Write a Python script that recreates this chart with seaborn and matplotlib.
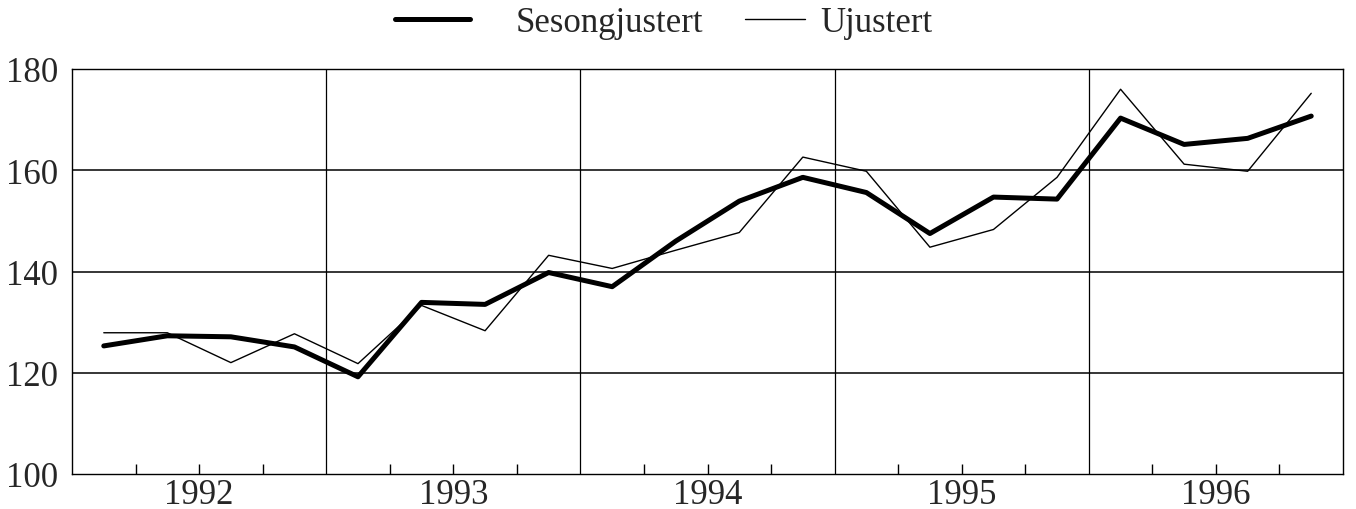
import numpy as np
import pandas as pd
import matplotlib
matplotlib.use("Agg")
import matplotlib.pyplot as plt
import seaborn as sns

# ---- data ----
years = [1992, 1993, 1994, 1995, 1996]
quarters = [1, 2, 3, 4]
sesongjustert = [125.3, 127.3, 127.1, 125.1, 119.2, 133.9, 133.5, 139.8, 137.0, 146.0,
                 153.9, 158.6, 155.6, 147.5, 154.7, 154.3, 170.3, 165.1, 166.3, 170.7]
ujustert = [127.9, 127.9, 122.0, 127.7, 121.8, 133.3, 128.3, 143.2, 140.6, 144.2,
            147.7, 162.6, 159.8, 144.8, 148.3, 158.6, 176.0, 161.2, 159.8, 175.2]
y_ticks = [100, 120, 140, 160, 180]
series_names = ["Sesongjustert", "Ujustert"]

# ---- frame ----
rows = []
idx = 0
for y in years:
    for q in quarters:
        rows.append({"t": idx, "year": y, "quarter": q,
                     series_names[0]: sesongjustert[idx],
                     series_names[1]: ujustert[idx]})
        idx += 1
df = pd.DataFrame(rows)
nq = len(quarters)

sns.set_style("white")
plt.rcParams["font.family"] = ["Liberation Serif", "DejaVu Serif"]

FS = 25
W, H = 1356, 510
fig = plt.figure(figsize=(W / 100, H / 100), dpi=100)
ax = fig.add_axes([72 / W, 1 - 475 / H, (1343 - 72) / W, (475 - 70) / H])

sns.lineplot(data=df, x="t", y=series_names[0], ax=ax, color="black",
             linewidth=3.6, label=series_names[0])
sns.lineplot(data=df, x="t", y=series_names[1], ax=ax, color="black",
             linewidth=1.0, label=series_names[1])

ax.set_xlim(-0.5, len(df) - 0.5)
ax.set_ylim(y_ticks[0], y_ticks[-1])
ax.set_yticks(y_ticks)
ax.set_yticklabels([str(v) for v in y_ticks])
ax.tick_params(axis="y", length=0, pad=10, labelsize=FS)

# horizontal grid
for v in y_ticks[1:-1]:
    ax.axhline(v, color="black", linewidth=1.1, zorder=0.5)
# year boundaries
for k in range(1, len(years)):
    ax.axvline(k * nq - 0.5, color="black", linewidth=0.9, zorder=0.5)

# quarter ticks (inward) at interior quarter boundaries
qb = [i + 0.5 for i in range(len(df) - 1) if (i + 1) % nq != 0]
ax.set_xticks(qb)
ax.set_xticklabels([])
ax.tick_params(axis="x", which="major", bottom=True, direction="in", length=7,
               width=1, color="black")
# year labels at year centers
ax.xaxis.remove_overlapping_locs = False
centers = [k * nq + (nq - 1) / 2 for k in range(len(years))]
ax.set_xticks(centers, minor=True)
ax.set_xticklabels([str(y) for y in years], minor=True)
ax.tick_params(axis="x", which="minor", bottom=True, length=0, pad=3, labelsize=FS)

ax.set_xlabel("")
ax.set_ylabel("")
for s in ax.spines.values():
    s.set_color("black")
    s.set_linewidth(1.0)
    s.set_visible(True)

ax.get_legend().remove()
handles, labels = ax.get_legend_handles_labels()
ly = 1 - 24 / H
leg1 = fig.legend([handles[0]], [labels[0]], loc="center left",
                  bbox_to_anchor=(395 / W, ly), frameon=False, fontsize=FS,
                  handlelength=2.16, handletextpad=1.3, borderpad=0, borderaxespad=0)
leg2 = fig.legend([handles[1]], [labels[1]], loc="center left",
                  bbox_to_anchor=(745 / W, ly), frameon=False, fontsize=FS,
                  handlelength=1.73, handletextpad=0.43, borderpad=0, borderaxespad=0)

fig.savefig("out.png", dpi=100)
